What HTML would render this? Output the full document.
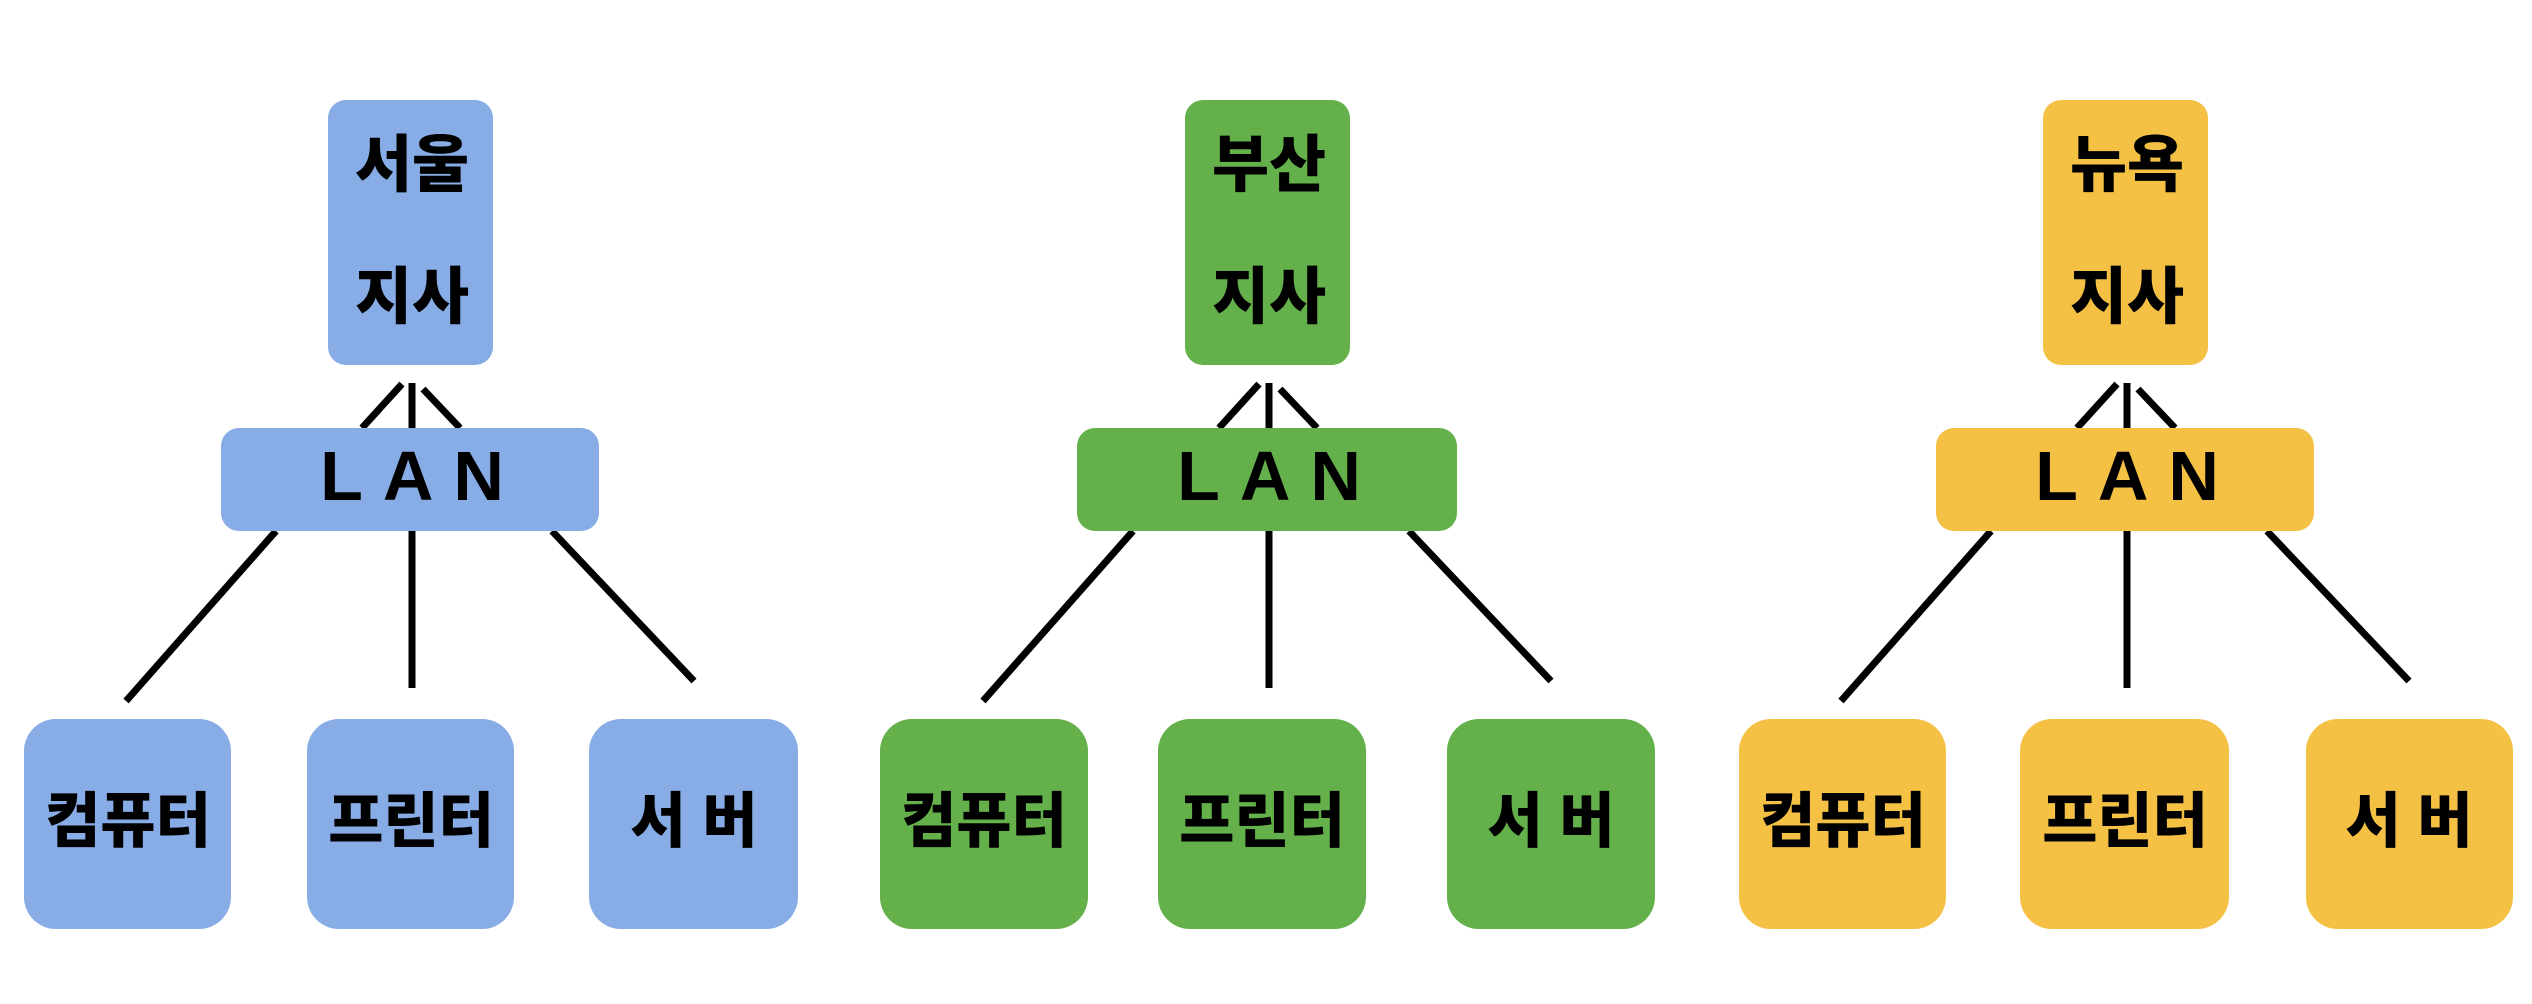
<!DOCTYPE html>
<html><head><meta charset="utf-8"><style>
html,body{margin:0;padding:0;background:#fff;}
svg{display:block}
text{font-family:"Liberation Sans","Noto Sans CJK KR","NanumGothic",sans-serif;font-weight:900;fill:#000;text-anchor:middle;}
</style></head><body>
<svg width="2532" height="1004" viewBox="0 0 2532 1004">
<defs>
<g id="lines" stroke="#000" stroke-width="7" fill="none">
<line x1="402" y1="384" x2="362" y2="428"/>
<line x1="423" y1="389" x2="460" y2="428"/>
<line x1="412" y1="383" x2="412" y2="428"/>
<line x1="412" y1="531" x2="412" y2="688"/>
<line x1="276" y1="531" x2="126" y2="701"/>
<line x1="552" y1="531" x2="694" y2="681"/>
</g>
</defs>

<g>
<use href="#lines"/>
<rect x="328" y="100" width="165" height="265" rx="18" fill="#87ace6"/>
<rect x="221" y="428" width="378" height="103" rx="18" fill="#87ace6"/>
<rect x="24" y="719" width="207" height="210" rx="32" fill="#87ace6"/>
<rect x="307" y="719" width="207" height="210" rx="32" fill="#87ace6"/>
<rect x="589" y="719" width="209" height="210" rx="32" fill="#87ace6"/>
<text x="412" y="186" font-size="62">서울</text>
<text x="412" y="318" font-size="62">지사</text>
<text x="422" y="500" font-size="70" letter-spacing="20">LAN</text>
<text x="128" y="842" font-size="60">컴퓨터</text>
<text x="411" y="842" font-size="60">프린터</text>
<text x="694" y="842" font-size="60">서 버</text>
</g>

<g transform="translate(857,0)">
<use href="#lines"/>
<rect x="328" y="100" width="165" height="265" rx="18" fill="#64b14c"/>
<rect x="220" y="428" width="380" height="103" rx="18" fill="#64b14c"/>
<rect x="23" y="719" width="208" height="210" rx="32" fill="#64b14c"/>
<rect x="301" y="719" width="208" height="210" rx="32" fill="#64b14c"/>
<rect x="590" y="719" width="208" height="210" rx="32" fill="#64b14c"/>
<text x="412" y="186" font-size="62">부산</text>
<text x="412" y="318" font-size="62">지사</text>
<text x="422" y="500" font-size="70" letter-spacing="20">LAN</text>
<text x="127" y="842" font-size="60">컴퓨터</text>
<text x="405" y="842" font-size="60">프린터</text>
<text x="694" y="842" font-size="60">서 버</text>
</g>

<g transform="translate(1715,0)">
<use href="#lines"/>
<rect x="328" y="100" width="165" height="265" rx="18" fill="#f4c145"/>
<rect x="221" y="428" width="378" height="103" rx="18" fill="#f4c145"/>
<rect x="24" y="719" width="207" height="210" rx="32" fill="#f4c145"/>
<rect x="305" y="719" width="209" height="210" rx="32" fill="#f4c145"/>
<rect x="591" y="719" width="207" height="210" rx="32" fill="#f4c145"/>
<text x="412" y="186" font-size="62">뉴욕</text>
<text x="412" y="318" font-size="62">지사</text>
<text x="422" y="500" font-size="70" letter-spacing="20">LAN</text>
<text x="128" y="842" font-size="60">컴퓨터</text>
<text x="410" y="842" font-size="60">프린터</text>
<text x="694" y="842" font-size="60">서 버</text>
</g>
</svg>
</body></html>
